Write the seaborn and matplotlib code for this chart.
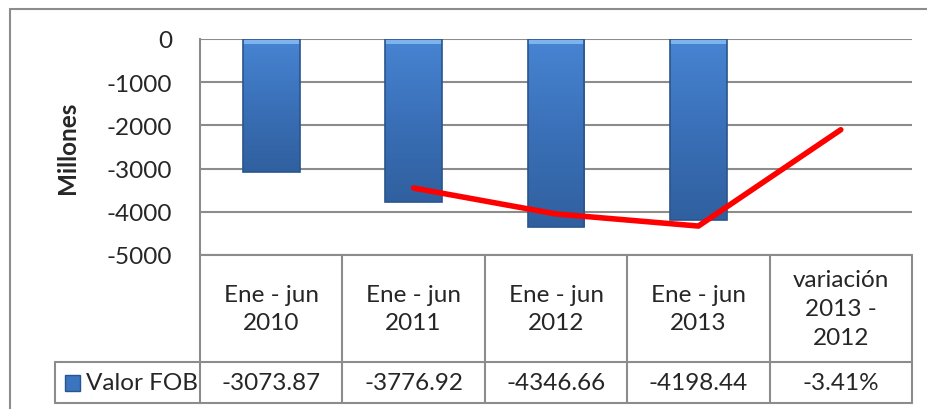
import numpy as np
import pandas as pd
import matplotlib
matplotlib.use("Agg")
import matplotlib.pyplot as plt
import seaborn as sns
from matplotlib.lines import Line2D
from matplotlib.patches import Rectangle
from matplotlib.colors import LinearSegmentedColormap
from matplotlib.transforms import blended_transform_factory

# --- data ---------------------------------------------------------------------
categories = ["Ene - jun\n2010", "Ene - jun\n2011", "Ene - jun\n2012",
              "Ene - jun\n2013", "variación\n2013 -\n2012"]
valor_fob = [-3073.87, -3776.92, -4346.66, -4198.44, np.nan]
table_values = ["-3073.87", "-3776.92", "-4346.66", "-4198.44", "-3.41%"]
# red line as it sits on the primary axis
line_values = [np.nan, -3450, -4050, -4330, -2100]
series_name = "Valor FOB"
y_ticks = [0, -1000, -2000, -3000, -4000, -5000]

sns.set_style("white")
plt.rcParams["font.family"] = ["Lato", "DejaVu Sans"]
FS = 17.5

W, H = 927, 410
fig = plt.figure(figsize=(W / 100, H / 100), dpi=100)
# plot area in pixels: x 200..912, y 40..256
ax = fig.add_axes([200 / W, 1 - 256 / H, 712 / W, 216 / H])

df = pd.DataFrame({"cat": categories, "val": valor_fob})
sns.barplot(data=df, x="cat", y="val", order=categories, ax=ax,
            color="#3b74bf", edgecolor="#2a558c", linewidth=1.2,
            width=0.4, saturation=1)

# gradient fill + light top bevel, clipped to each bar
grad = LinearSegmentedColormap.from_list("bar", ["#4784d2", "#3a70b8", "#30609f"])
for bar in list(ax.patches):
    x0, w, h = bar.get_x(), bar.get_width(), bar.get_height()
    img = ax.imshow(np.linspace(0, 1, 64).reshape(-1, 1), cmap=grad,
                    extent=(x0, x0 + w, h, 0), aspect="auto", zorder=2.5,
                    origin="upper")
    img.set_clip_path(bar)
    ax.add_patch(Rectangle((x0, 0), w, -110, color="#7db4ee", lw=0, zorder=3))
    bar.set_zorder(3.2)
    bar.set_facecolor("none")

sns.lineplot(x=np.arange(len(categories)), y=line_values, ax=ax,
             color="#ff0000", linewidth=4, zorder=4)

ax.set_xlim(-0.5, len(categories) - 0.5)
ax.set_ylim(-5000, 0)
ax.set_yticks(y_ticks)
ax.set_yticklabels([str(v) for v in y_ticks], fontsize=FS)
ax.tick_params(axis="y", length=0, pad=20)
ax.set_xticks([])
ax.set_xlabel("")
ax.set_ylabel("Millones", fontsize=FS, fontweight="bold", labelpad=20)
ax.yaxis.grid(True, color="#8c8c8c", linewidth=1.5)
ax.set_axisbelow(True)
for side in ["top", "right", "bottom"]:
    ax.spines[side].set_visible(False)
ax.spines["left"].set_color("#8c8c8c")
ax.spines["left"].set_linewidth(1.5)

# --- data table below the plot ------------------------------------------------
tr = blended_transform_factory(ax.transData, ax.transAxes)
grid_kw = dict(color="#8c8c8c", linewidth=1.5, transform=tr, clip_on=False)
hdr_bottom = -107 / 216
row_bottom = -148 / 216
n = len(categories)
legend_left = -0.5 - 145 / 142.4

for i in range(n + 1):
    ax.add_line(Line2D([i - 0.5, i - 0.5], [0, row_bottom], **grid_kw))
ax.add_line(Line2D([-0.5, n - 0.5], [0, 0], **grid_kw))
ax.add_line(Line2D([legend_left, n - 0.5], [hdr_bottom, hdr_bottom], **grid_kw))
ax.add_line(Line2D([legend_left, n - 0.5], [row_bottom, row_bottom], **grid_kw))
ax.add_line(Line2D([legend_left, legend_left], [hdr_bottom, row_bottom], **grid_kw))

for i, (cat, val) in enumerate(zip(categories, table_values)):
    ax.text(i, hdr_bottom / 2, cat, transform=tr, ha="center", va="center",
            fontsize=FS, linespacing=1.45)
    ax.text(i, (hdr_bottom + row_bottom) / 2, val, transform=tr,
            ha="center", va="center", fontsize=FS)

# legend key + series name
key_y = (hdr_bottom + row_bottom) / 2
ax.add_patch(Rectangle((legend_left + 10 / 142.4, key_y - 8 / 216), 15 / 142.4, 16 / 216,
                       transform=tr, clip_on=False, facecolor="#3b74bf",
                       edgecolor="#2a558c", lw=1))
ax.text(legend_left + 31 / 142.4, key_y, series_name, transform=tr,
        ha="left", va="center", fontsize=FS)

# outer chart frame
frame_kw = dict(color="#8c8c8c", linewidth=1.5, transform=fig.transFigure)
fig.add_artist(Line2D([10 / W, 10 / W], [0, 1 - 10 / H], **frame_kw))
fig.add_artist(Line2D([10 / W, 1], [1 - 10 / H, 1 - 10 / H], **frame_kw))

fig.savefig("out.png", dpi=100)
